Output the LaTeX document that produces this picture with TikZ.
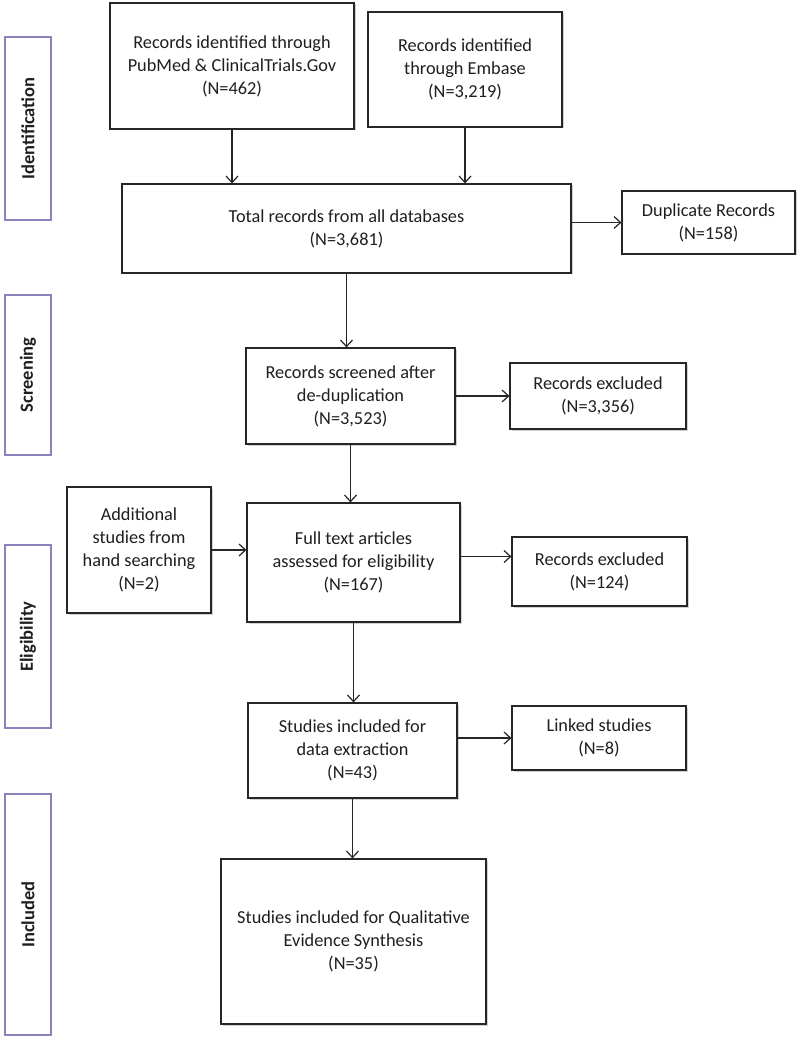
\documentclass[tikz,border=0pt]{standalone}
\usepackage{fontspec}
\setmainfont{Carlito}
\usetikzlibrary{arrows.meta,shadows,calc}
\begin{document}
\begin{tikzpicture}[x=1pt,y=1pt,
  box/.style={draw=black!85, line width=1.2pt, fill=white, align=center, inner sep=0pt,
    font=\fontsize{18.3}{23}\selectfont, text=black!88,
    drop shadow={shadow xshift=1.5pt, shadow yshift=-1.5pt, opacity=0.35}},
  phase/.style={draw=phasecol, line width=1.3pt, fill=white, inner sep=0pt, minimum width=46pt,
    drop shadow={shadow xshift=1.2pt, shadow yshift=-1.2pt, opacity=0.3}},
  phasetext/.style={rotate=90, font=\bfseries\fontsize{18.5}{22}\selectfont, text=black!88},
  arr/.style={-{Straight Barb[length=6.5pt,width=12pt,line width=1.2pt]}, line width=1.2pt, draw=black!85}
]
\definecolor{phasecol}{RGB}{140,130,190}
\useasboundingbox (0,0) rectangle (800,-1040);
\fill[white] (0,0) rectangle (800,-1040);

% phase bars
\node[phase, minimum height=183pt] (pI) at (28,-128.5) {};
\node[phasetext] (tI) at (pI.center) {Identification};
\node[phase, minimum height=160pt] (pS) at (28,-375) {};
\node[phasetext] (tS) at (pS.center) {Screening};
\node[phase, minimum height=183pt] (pE) at (28,-636.5) {};
\node[phasetext] (tE) at (pE.center) {Eligibility};
\node[phase, minimum height=241pt] (pN) at (28,-914.5) {};
\node[phasetext] (tN) at (pN.center) {Included};

% boxes
\node[box, minimum width=244pt, minimum height=126pt] (A) at (232,-66)
  {Records identified through\\PubMed \& ClinicalTrials.Gov\\(N=462)};
\node[box, minimum width=194pt, minimum height=115pt] (B) at (465,-69.5)
  {Records identified\\through Embase\\(N=3,219)};
\node[box, minimum width=449pt, minimum height=89pt] (T) at (346.5,-228.5)
  {Total records from all databases\\(N=3,681)};
\node[box, minimum width=173pt, minimum height=63pt] (D) at (708.5,-222.5)
  {Duplicate Records\\(N=158)};
\node[box, minimum width=209pt, minimum height=96pt] (S) at (350.5,-396)
  {Records screened after\\de-duplication\\(N=3,523)};
\node[box, minimum width=176pt, minimum height=66pt] (X1) at (598,-396)
  {Records excluded\\(N=3,356)};
\node[box, minimum width=144pt, minimum height=126pt] (H) at (139,-550)
  {Additional\\studies from\\hand searching\\(N=2)};
\node[box, minimum width=213pt, minimum height=119pt] (F) at (353.5,-562.5)
  {Full text articles\\assessed for eligibility\\(N=167)};
\node[box, minimum width=175pt, minimum height=69pt] (X2) at (599.5,-571.5)
  {Records excluded\\(N=124)};
\node[box, minimum width=209pt, minimum height=95pt] (SI) at (352.5,-750.5)
  {Studies included for\\data extraction\\(N=43)};
\node[box, minimum width=174pt, minimum height=64pt] (L) at (599,-738)
  {Linked studies\\(N=8)};
\node[box, minimum width=265pt, minimum height=165pt] (Q) at (353.5,-941.5)
  {Studies included for Qualitative\\Evidence Synthesis\\(N=35)};

% connectors
\draw[arr] (A.south) -- (A.south |- T.north);
\draw[arr] (B.south) -- (B.south |- T.north);
\draw[arr] (D.west -| T.east) -- (D.west);
\draw[arr] (T.south) -- (T.south |- S.north);
\draw[arr] (X1.west -| S.east) -- (X1.west);
\draw[arr] (S.south) -- (S.south |- F.north);
\draw[arr] (H.east) -- (H.east -| F.west);
\coordinate (fe) at ($(F.east)+(0,6)$);
\draw[arr] (fe) -- (fe -| X2.west);
\draw[arr] (F.south) -- (F.south |- SI.north);
\draw[arr] (L.west -| SI.east) -- (L.west);
\draw[arr] (SI.south) -- (SI.south |- Q.north);
\end{tikzpicture}
\end{document}
